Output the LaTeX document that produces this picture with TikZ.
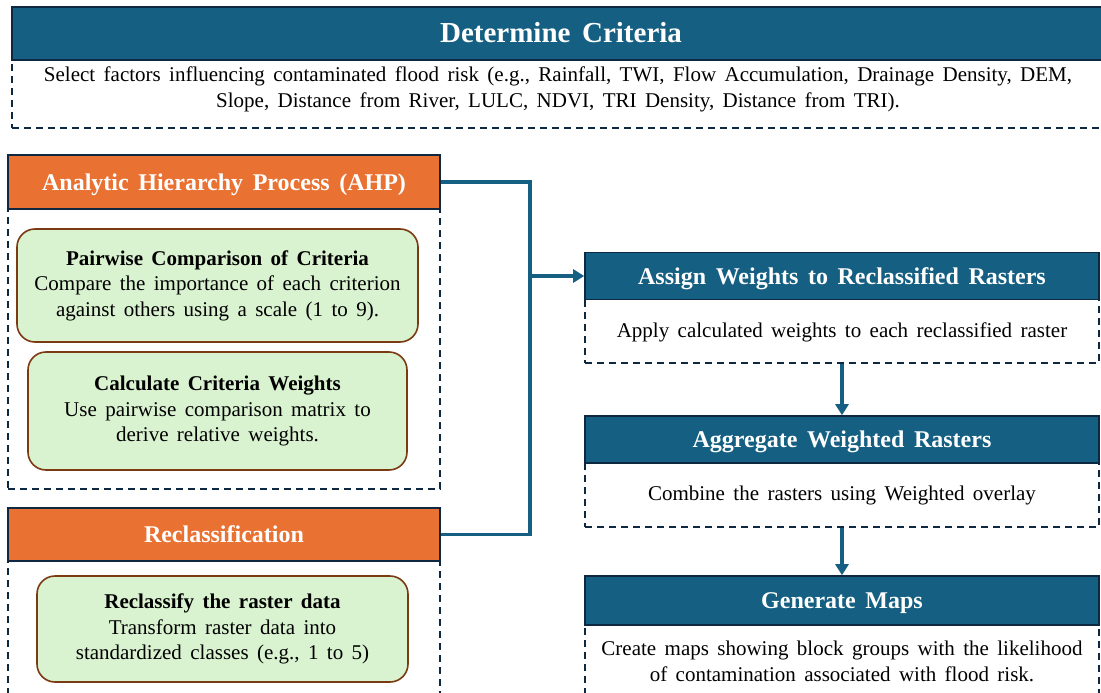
\documentclass[tikz,border=0pt]{standalone}
\usepackage{fontspec}
\setmainfont{Liberation Serif}[WordSpace=1.6]
\usetikzlibrary{arrows.meta}
\definecolor{hblue}{HTML}{156082}
\definecolor{hdark}{HTML}{0E2841}
\definecolor{horange}{HTML}{E97132}
\definecolor{gfill}{HTML}{D9F2D0}
\definecolor{gbrown}{HTML}{7B3A12}
\begin{document}
\begin{tikzpicture}[x=1pt,y=-1pt,
hdr/.style={draw=hdark,line width=1.6pt,fill=hblue,text=white,inner sep=0pt,text height=16pt,text depth=0pt,font=\fontsize{24}{29}\selectfont\bfseries},
ohdr/.style={hdr,fill=horange},
frame/.style={draw=hdark,line width=1.3pt,dash pattern=on 7pt off 5pt,inner sep=0pt},
txt/.style={align=center,inner sep=0pt,font=\fontsize{21}{26}\selectfont},
sub/.style={draw=gbrown,line width=1.6pt,fill=gfill,rounded corners=18pt,align=center,inner sep=0pt,font=\fontsize{21}{25.5}\selectfont},
flow/.style={draw=hblue,line width=3.4pt},
tip/.style={-{Triangle[length=11pt,width=13pt]}}]
\useasboundingbox(0,0)rectangle(1101,693);\clip(0,0)rectangle(1101,693);
\node[frame,minimum width=1098pt,minimum height=68pt](critfr)at(561,94){};
\node[hdr,minimum width=1098pt,minimum height=53pt,text height=19pt,font=\fontsize{29}{34}\selectfont\bfseries](crit)at(561,33.5){Determine Criteria};
\node[txt](crittx)at(558,89){Select factors influencing contaminated flood risk (e.g., Rainfall, TWI, Flow Accumulation, Drainage Density, DEM,\\Slope, Distance from River, LULC, NDVI, TRI Density, Distance from TRI).};
\node[frame,minimum width=432pt,minimum height=280pt](ahpfr)at(224,349){};
\node[ohdr,minimum width=432pt,minimum height=54pt](ahp)at(224,182){Analytic Hierarchy Process (AHP)};
\node[sub,minimum width=401pt,minimum height=113pt](pair)at(217.5,285.5){\textbf{Pairwise Comparison of Criteria}\\Compare the importance of each criterion\\against others using a scale (1 to 9).};
\node[sub,minimum width=379pt,minimum height=118pt](calc)at(217.5,411){\textbf{Calculate Criteria Weights}\\Use pairwise comparison matrix to\\derive relative weights.};
\node[frame,minimum width=432pt,minimum height=149pt](reclfr)at(224,635.5){};
\node[ohdr,minimum width=432pt,minimum height=53pt](recl)at(224,534.5){Reclassification};
\node[sub,minimum width=371pt,minimum height=106pt](reclas)at(222.5,629){\textbf{Reclassify the raster data}\\Transform raster data into\\standardized classes (e.g., 1 to 5)};
\node[frame,minimum width=514pt,minimum height=63.5pt](assignfr)at(842,331.25){};
\node[hdr,minimum width=514pt,minimum height=47pt](assign)at(842,276){Assign Weights to Reclassified Rasters};
\node[txt](assigntx)at(842,332){Apply calculated weights to each reclassified raster};
\node[frame,minimum width=514pt,minimum height=64pt](aggrfr)at(842,495){};
\node[hdr,minimum width=514pt,minimum height=47pt](aggr)at(842,439.5){Aggregate Weighted Rasters};
\node[txt](aggrtx)at(842,495){Combine the rasters using Weighted overlay};
\node[frame,minimum width=514pt,minimum height=85pt](genfr)at(842,667.5){};
\node[hdr,minimum width=514pt,minimum height=49pt](gen)at(842,600.5){Generate Maps};
\node[txt](gentx)at(842,661){Create maps showing block groups with the likelihood\\of contamination associated with flood risk.};
\coordinate(jn)at(530,276);
\draw[flow](ahp.east)-|(jn)|-(recl.east);
\draw[flow,tip](jn)--(assign.west);
\draw[flow,tip](assignfr.south)--(aggr.north);\draw[flow,tip](aggrfr.south)--(gen.north);
\end{tikzpicture}
\end{document}
